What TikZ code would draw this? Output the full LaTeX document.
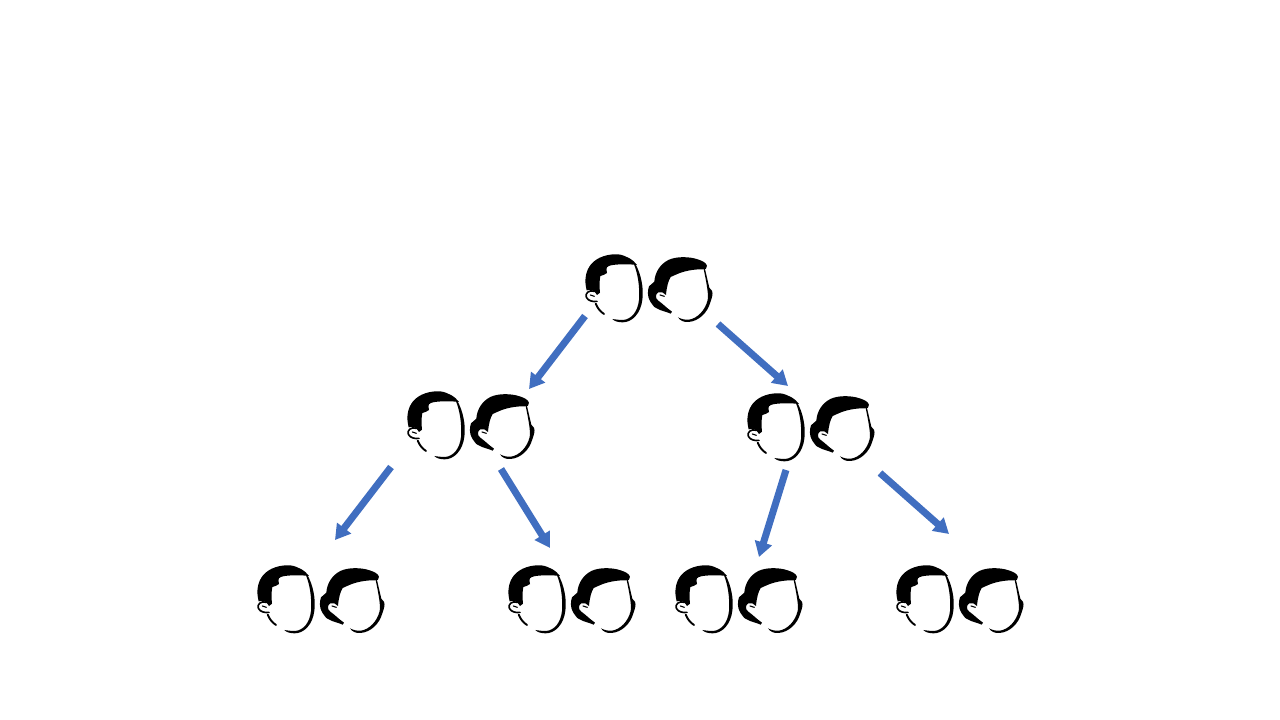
\documentclass[tikz,border=0pt]{standalone}
\usetikzlibrary{arrows.meta}
\definecolor{arrowblue}{HTML}{406EC0}
\tikzset{
  flow/.style={draw=arrowblue,line width=7pt,-{Triangle[length=15pt,width=17pt]}},
  ink/.style={fill=black,draw=none},
  stroke/.style={draw=black,line cap=round,line join=round,fill=none},
  pics/heads/.style={code={
    \begin{scope}[x=0.3333pt,y=-0.3333pt]
      % left head, hair
      \fill[ink] (35,136) .. controls (27,105) and (32,78) .. (48,58) .. controls (66,36) and (100,26) .. (130,28)
        .. controls (152,31) and (175,44) .. (186,60) .. controls (165,57) and (125,57) .. (108,61)
        .. controls (95,64) and (92,68) .. (96,84) .. controls (90,89) and (83,91) .. (76,93)
        .. controls (73,110) and (73,125) .. (75,143) -- (66,150) .. controls (60,138) and (48,132) .. (35,136) -- cycle;
      % left head, face line
      \fill[ink] (180,55) .. controls (198,85) and (207,130) .. (202,165) .. controls (197,205) and (172,232) .. (143,232)
        .. controls (130,232) and (118,229) .. (112,222) .. controls (125,224) and (135,225) .. (145,225)
        .. controls (170,222) and (188,200) .. (192,165) .. controls (195,125) and (188,85) .. (177,58) -- cycle;
      % left ear and jaw
      \draw[stroke,line width=1.6pt] (58,139) .. controls (42,133) and (29,146) .. (34,157) .. controls (39,168) and (55,171) .. (66,169);
      \draw[stroke,line width=1.1pt] (46,150) -- (58,154);
      \draw[stroke,line width=1.9pt] (62,176) .. controls (68,190) and (76,200) .. (87,207);
      % right head, hair
      \fill[ink] (238,110) .. controls (240,82) and (255,58) .. (280,45) .. controls (305,33) and (345,35) .. (368,43)
        .. controls (380,47) and (393,52) .. (396,62) .. controls (396,70) and (392,75) .. (384,73)
        .. controls (360,72) and (325,78) .. (305,88) .. controls (297,92) and (292,93) .. (287,96)
        .. controls (280,108) and (275,125) .. (273,150) .. controls (268,143) and (258,139) .. (250,142)
        .. controls (241,147) and (240,160) .. (250,167) .. controls (262,175) and (276,190) .. (291,200)
        -- (287,206) .. controls (275,200) and (258,198) .. (245,190)
        .. controls (234,186) and (232,176) .. (226,170) .. controls (216,155) and (218,135) .. (222,124)
        .. controls (226,118) and (234,116) .. (238,110) -- cycle;
      % right head, face line
      \fill[ink] (386,72) -- (390,72) -- (403,128) .. controls (411,132) and (414,142) .. (412,152)
        .. controls (411,160) and (408,165) .. (406,172) .. controls (398,202) and (372,229) .. (340,231)
        .. controls (328,232) and (316,228) .. (309,217) .. controls (320,223) and (332,225) .. (342,224)
        .. controls (368,220) and (391,195) .. (398,165) .. controls (401,150) and (396,120) .. (386,72) -- cycle;
      \draw[stroke,line width=1.1pt] (255,150) -- (268,154);
    \end{scope}
  }}
}
\begin{document}
\begin{tikzpicture}[x=1pt,y=-1pt]
  \useasboundingbox[fill=white] (0,0) rectangle (1280,720);
  \pic at (575,245) {heads};
  \pic at (397,382) {heads};
  \pic at (737,384) {heads};
  \pic at (247,556) {heads};
  \pic at (498,556) {heads};
  \pic at (665,556) {heads};
  \pic at (886,556) {heads};
  \coordinate (a1) at (585,316); \coordinate (a2) at (529,389);
  \coordinate (b1) at (718,324); \coordinate (b2) at (788,386);
  \coordinate (c1) at (391,467); \coordinate (c2) at (335,540);
  \coordinate (d1) at (501,469); \coordinate (d2) at (550,548);
  \coordinate (e1) at (786,470); \coordinate (e2) at (759,557);
  \coordinate (f1) at (880,473); \coordinate (f2) at (949,534);
  \draw[flow] (a1) -- (a2);
  \draw[flow] (b1) -- (b2);
  \draw[flow] (c1) -- (c2);
  \draw[flow] (d1) -- (d2);
  \draw[flow] (e1) -- (e2);
  \draw[flow] (f1) -- (f2);
\end{tikzpicture}
\end{document}
